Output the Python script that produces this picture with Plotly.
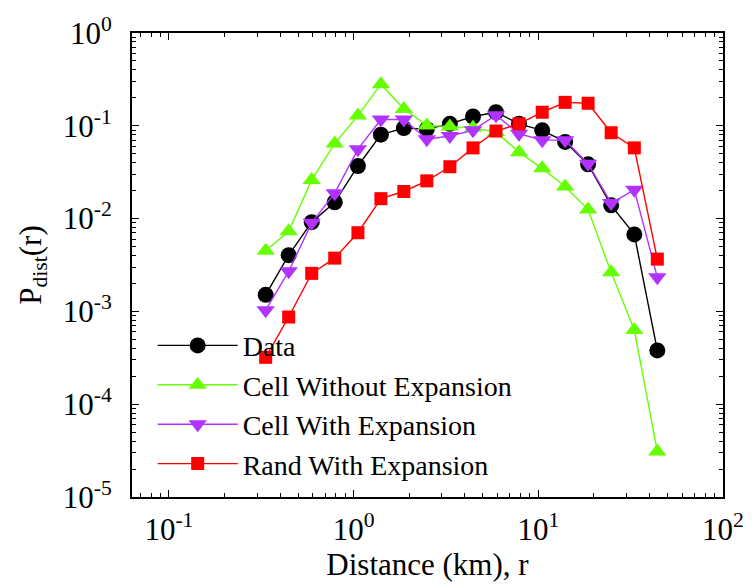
import plotly.graph_objects as go

# distance bins (km)
r_km = [0.334, 0.445, 0.593, 0.79, 1.055, 1.405, 1.87, 2.49, 3.32, 4.43,
        5.9, 7.86, 10.5, 13.97, 18.6, 24.8, 33.1, 44.1]

p_data = [0.00151, 0.00404, 0.00916, 0.015, 0.0369, 0.0802, 0.0945, 0.092, 0.105, 0.126,
          0.14, 0.105, 0.0893, 0.067, 0.0384, 0.0139, 0.00676, 0.00038]
p_cell_noexp = [0.0045, 0.0073, 0.0261, 0.0643, 0.129, 0.281, 0.152, 0.101, 0.098, 0.095,
                0.0857, 0.052, 0.0348, 0.0222, 0.0125, 0.00264, 0.00063, 0.000031]
p_cell_exp = [0.00103, 0.0027, 0.009, 0.0188, 0.056, 0.117, 0.117, 0.0716, 0.0776, 0.0893,
              0.13, 0.082, 0.07, 0.07, 0.039, 0.0147, 0.0204, 0.00233]
p_rand_exp = [0.00032, 0.00087, 0.00257, 0.00375, 0.00704, 0.0164, 0.0196, 0.0255, 0.0362, 0.0578,
              0.0878, 0.105, 0.14, 0.179, 0.175, 0.0842, 0.0578, 0.00366]

series_names = ["Data", "Cell Without Expansion", "Cell With Expansion", "Rand With Expansion"]

x_tickvals = [0.1, 1, 10, 100]
x_ticktext = ["10<sup>-1</sup>", "10<sup>0</sup>", "10<sup>1</sup>", "10<sup>2</sup>"]
y_tickvals = [1e-5, 1e-4, 1e-3, 1e-2, 1e-1, 1]
y_ticktext = ["10<sup>-5</sup>", "10<sup>-4</sup>", "10<sup>-3</sup>",
              "10<sup>-2</sup>", "10<sup>-1</sup>", "10<sup>0</sup>"]

FONT = "Liberation Serif"
TICK_SIZE = 31
TITLE_SIZE = 31
LEGEND_SIZE = 28

styles = [
    dict(color="#000000", symbol="circle", size=16),
    dict(color="#66FF00", symbol="triangle-up", size=16),
    dict(color="#B233FF", symbol="triangle-down", size=16),
    dict(color="#FF0000", symbol="square", size=13),
]

fig = go.Figure()
for name, ys, st in zip(series_names, [p_data, p_cell_noexp, p_cell_exp, p_rand_exp], styles):
    fig.add_trace(go.Scatter(
        x=r_km, y=ys, name=name, mode="lines+markers",
        line=dict(color=st["color"], width=1.4),
        marker=dict(color=st["color"], symbol=st["symbol"], size=st["size"],
                    line=dict(width=0)),
    ))

x_minor = [m * 10 ** e for e in range(-2, 2) for m in range(2, 10)]
y_minor = [m * 10 ** e for e in range(-5, 0) for m in range(2, 10)]

axis_common = dict(
    type="log", showgrid=False, zeroline=False,
    showline=True, linecolor="black", linewidth=1.8, mirror="allticks",
    ticks="inside", ticklen=7, tickwidth=1.2, tickcolor="black",
    tickmode="array",
    tickfont=dict(family=FONT, size=TICK_SIZE, color="black"),
)

fig.update_xaxes(
    **axis_common, range=[-1.2, 2],
    tickvals=x_tickvals, ticktext=x_ticktext, ticklabelstandoff=4,
    minor=dict(tickmode="array", tickvals=x_minor, ticks="inside", ticklen=4,
               tickwidth=1, tickcolor="black", showgrid=False),
    title=dict(text="Distance (km), r", font=dict(family=FONT, size=TITLE_SIZE, color="black"),
               standoff=2),
)
fig.update_yaxes(
    **axis_common, range=[-5, 0],
    tickvals=y_tickvals, ticktext=y_ticktext, ticklabelstandoff=12,
    minor=dict(tickmode="array", tickvals=y_minor, ticks="inside", ticklen=4,
               tickwidth=1, tickcolor="black", showgrid=False),
    title=dict(text="P<sub>dist</sub>(r)", font=dict(family=FONT, size=TITLE_SIZE, color="black"),
               standoff=12),
)

fig.update_layout(
    width=756, height=588,
    margin=dict(l=132, r=25, t=30, b=91),
    paper_bgcolor="white", plot_bgcolor="white",
    font=dict(family=FONT, color="black"),
    legend=dict(x=0.035, y=0.38, xanchor="left", yanchor="top",
                bgcolor="rgba(0,0,0,0)", borderwidth=0,
                font=dict(family=FONT, size=LEGEND_SIZE, color="black"),
                itemwidth=80, tracegroupgap=0),
    showlegend=True,
)

fig.write_html("out.html")
